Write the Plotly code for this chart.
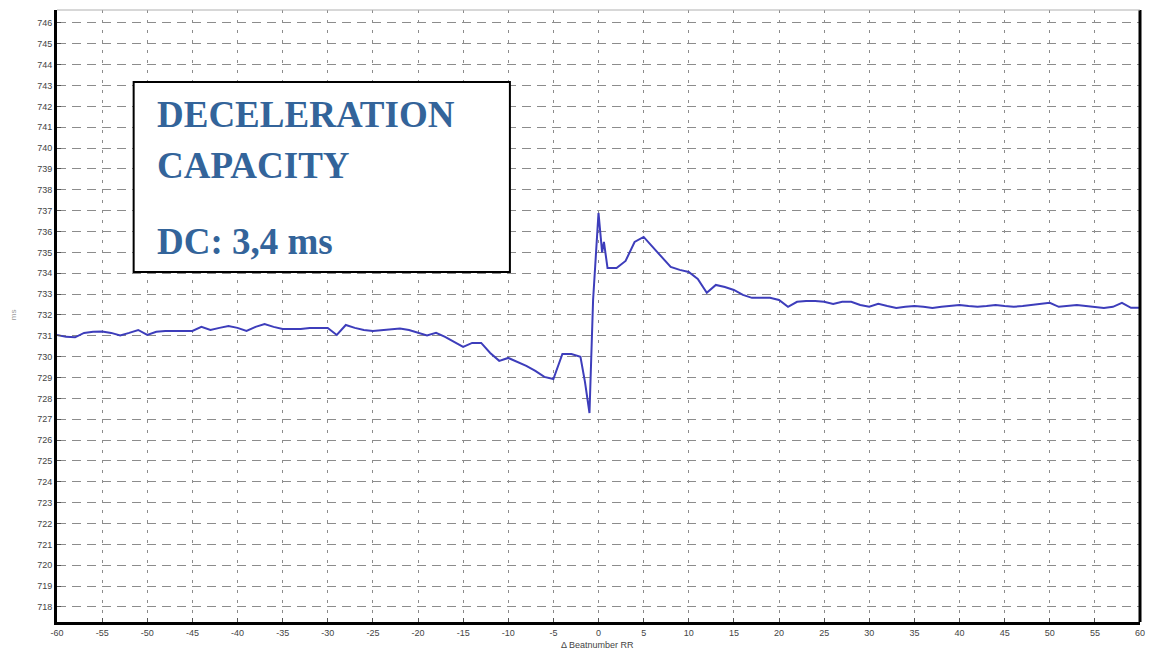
import plotly.graph_objects as go

# Beat index relative to the anchor beat
beats = [-60, -59, -58, -57, -56, -55, -54, -53, -52, -51,
         -50, -49, -48, -47, -46, -45, -44, -43, -42, -41,
         -40, -39, -38, -37, -36, -35, -34, -33, -32, -31,
         -30, -29, -28, -27, -26, -25, -24, -23, -22, -21,
         -20, -19, -18, -17, -16, -15, -14, -13, -12, -11,
         -10, -9, -8, -7, -6, -5, -4, -3, -2, -1.5,
         -1, -0.6, 0, 0.4, 0.6, 1, 2, 3, 4, 5,
         6, 7, 8, 9, 10, 11, 12, 13, 14, 15,
         16, 17, 18, 19, 20, 21, 22, 23, 24, 25,
         26, 27, 28, 29, 30, 31, 32, 33, 34, 35,
         36, 37, 38, 39, 40, 41, 42, 43, 44, 45,
         46, 47, 48, 49, 50, 51, 52, 53, 54, 55,
         56, 57, 58, 59, 60]

# PRSA-averaged RR interval (ms)
rr_ms = [731.04, 730.95, 730.93, 731.14, 731.19, 731.21, 731.14, 731.02, 731.14, 731.28,
         731.04, 731.19, 731.23, 731.23, 731.23, 731.23, 731.43, 731.28, 731.38, 731.47,
         731.38, 731.23, 731.43, 731.57, 731.43, 731.33, 731.33, 731.33, 731.38, 731.38,
         731.38, 731.04, 731.52, 731.38, 731.28, 731.23, 731.28, 731.33, 731.35, 731.28,
         731.14, 731.02, 731.14, 730.95, 730.71, 730.47, 730.66, 730.66, 730.18, 729.80,
         729.94, 729.75, 729.56, 729.32, 729.03, 728.93, 730.13, 730.13, 729.99, 728.79,
         727.30, 732.72, 736.89, 735.00, 735.50, 734.25, 734.25, 734.59, 735.50, 735.74,
         735.26, 734.73, 734.30, 734.16, 734.06, 733.73, 733.06, 733.44, 733.34, 733.20,
         732.96, 732.82, 732.82, 732.82, 732.72, 732.39, 732.63, 732.67, 732.67, 732.63,
         732.53, 732.63, 732.63, 732.48, 732.39, 732.53, 732.43, 732.34, 732.39, 732.43,
         732.39, 732.34, 732.39, 732.43, 732.48, 732.43, 732.39, 732.43, 732.48, 732.43,
         732.39, 732.43, 732.48, 732.53, 732.58, 732.39, 732.43, 732.48, 732.43, 732.39,
         732.34, 732.39, 732.58, 732.34, 732.34]

x_ticks = list(range(-60, 61, 5))
y_ticks = list(range(718, 747, 1))

x_title = "Δ Beatnumber RR"
box_lines = ["DECELERATION", "CAPACITY", "DC: 3,4 ms"]

W, H = 1151, 651
L, R, T, B = 57, 6, 10, 29
pw, ph = W - L - R, H - T - B


def px_x(px):
    return (px - L) / pw


def px_y(py):
    return (H - B - py) / ph


fig = go.Figure()
fig.add_trace(go.Scatter(
    x=beats, y=rr_ms, mode="lines",
    line=dict(color="#3d3dbb", width=2),
    hoverinfo="x+y", showlegend=False,
))

grid_col = "#8c8c8c"
tick_font = dict(family="Liberation Sans, Arial, sans-serif", size=9, color="#444444")

fig.update_layout(
    width=W, height=H,
    margin=dict(l=L, r=R, t=T, b=B),
    paper_bgcolor="white", plot_bgcolor="white",
    xaxis=dict(
        range=[-60, 60], tickvals=x_ticks, ticktext=[str(v) for v in x_ticks],
        showgrid=True, gridcolor=grid_col, gridwidth=1, griddash="3px,7px",
        showline=True, linecolor="black", linewidth=3,
        ticks="inside", ticklen=4, tickcolor="#555555",
        tickfont=tick_font, zeroline=False, fixedrange=True,
    ),
    yaxis=dict(
        range=[717.28, 746.62], tickvals=y_ticks, ticktext=[str(v) for v in y_ticks],
        showgrid=True, gridcolor=grid_col, gridwidth=1, griddash="9px,6px",
        showline=True, linecolor="black", linewidth=3,
        ticks="inside", ticklen=4, tickcolor="#555555",
        tickfont=tick_font, zeroline=False, fixedrange=True,
    ),
    showlegend=False,
)

# frame: right border and faint top border
fig.add_shape(type="line", xref="paper", yref="paper", x0=1, x1=1, y0=0, y1=1,
              line=dict(color="black", width=3))
fig.add_shape(type="line", xref="paper", yref="paper", x0=0, x1=1, y0=1, y1=1,
              line=dict(color="#b0b0b0", width=1))

# text box
fig.add_shape(type="rect", xref="paper", yref="paper",
              x0=px_x(134), x1=px_x(512), y0=px_y(272), y1=px_y(82),
              line=dict(color="black", width=2), fillcolor="white", layer="above")

text_font = dict(family="Liberation Serif, Times New Roman, serif", size=37, color="#33649a")
for line, cy in zip(box_lines, [115, 165.5, 241.5]):
    fig.add_annotation(xref="paper", yref="paper", x=px_x(155), y=px_y(cy),
                       xanchor="left", yanchor="middle", showarrow=False,
                       text="<b>" + line + "</b>", font=text_font)

# axis titles
fig.add_annotation(xref="paper", yref="paper", x=px_x(600), y=px_y(645),
                   xanchor="center", yanchor="middle", showarrow=False,
                   text=x_title, font=dict(family="Liberation Sans, Arial", size=9, color="#444444"))
fig.add_annotation(xref="paper", yref="paper", x=px_x(13), y=px_y(315),
                   xanchor="center", yanchor="middle", showarrow=False, textangle=-90,
                   text="ms", font=dict(family="Liberation Sans, Arial", size=8, color="#9a9a9a"))

fig.write_html("out.html")
